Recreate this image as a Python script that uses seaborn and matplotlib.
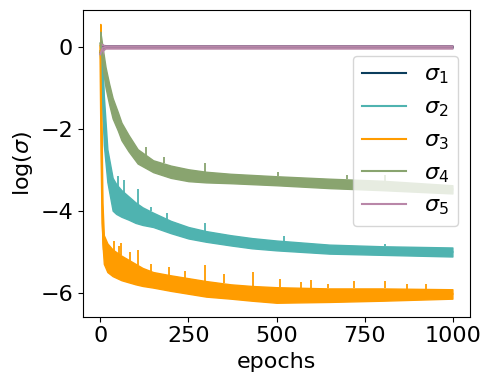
import numpy as np
import pandas as pd
import matplotlib
matplotlib.use('Agg')
import matplotlib.pyplot as plt
import seaborn as sns

# Values: noisy training curves, stored as lower / upper
# envelope at a few epochs plus the visible spikes (epoch, peak value).
labels = [r'$\sigma_1$', r'$\sigma_2$', r'$\sigma_3$', r'$\sigma_4$', r'$\sigma_5$']
colors = ['#0b3d5c', '#4fb3b0', '#ff9c00', '#89a46f', '#b987a8']

s1_epochs = [0, 3, 8, 15, 60, 999]
s1_lo = [-0.40, -0.25, -0.06, -0.02, -0.02, -0.02]
s1_hi = [0.12, 0.08, 0.04, 0.02, 0.02, 0.02]
s1_spikes = []

s2_epochs = [0, 3, 6, 10, 20, 35, 45, 60, 80, 100, 120, 150, 200, 250, 300,
             370, 430, 500, 650, 800, 999]
s2_lo = [-0.30, -0.80, -1.50, -2.40, -3.30, -4.00, -4.08, -4.15, -4.22, -4.30,
         -4.35, -4.40, -4.55, -4.68, -4.76, -4.85, -4.92, -4.97, -5.05, -5.08, -5.12]
s2_hi = [0.10, 0.00, -0.30, -1.20, -2.50, -3.20, -3.35, -3.50, -3.65, -3.80,
         -3.92, -4.05, -4.25, -4.40, -4.50, -4.60, -4.67, -4.73, -4.83, -4.87, -4.90]
s2_spikes = [(50, -3.15), (68, -3.26), (106, -3.48), (143, -3.91), (190, -4.05),
             (298, -4.31), (520, -4.62), (807, -4.81)]

s3_epochs = [0, 3, 6, 10, 20, 35, 60, 80, 100, 120, 150, 200, 250, 300,
             370, 430, 500, 650, 800, 999]
s3_lo = [-0.50, -3.50, -4.80, -5.30, -5.50, -5.60, -5.70, -5.75, -5.80, -5.84,
         -5.88, -5.96, -6.03, -6.10, -6.15, -6.20, -6.25, -6.23, -6.20, -6.15]
s3_hi = [0.56, -1.50, -3.80, -4.60, -4.80, -4.95, -5.10, -5.20, -5.30, -5.40,
         -5.50, -5.58, -5.65, -5.72, -5.80, -5.84, -5.87, -5.90, -5.90, -5.92]
s3_spikes = [(40, -4.75), (52, -4.87), (58, -4.80), (85, -5.00), (106, -4.97),
             (143, -5.30), (196, -5.38), (240, -5.48), (298, -5.32), (350, -5.55),
             (433, -5.50), (509, -5.66), (570, -5.75), (597, -5.70), (645, -5.78),
             (720, -5.72), (807, -5.72), (870, -5.78), (925, -5.80)]

s4_epochs = [0, 3, 8, 15, 25, 35, 50, 60, 80, 106, 150, 200, 250, 300,
             370, 500, 650, 800, 999]
s4_lo = [-0.20, -0.30, -0.60, -1.00, -1.40, -1.75, -2.05, -2.28, -2.55, -2.85,
         -3.06, -3.20, -3.28, -3.31, -3.33, -3.38, -3.45, -3.50, -3.58]
s4_hi = [0.37, 0.20, -0.10, -0.50, -0.90, -1.25, -1.60, -1.85, -2.15, -2.50,
         -2.77, -2.90, -2.99, -3.05, -3.10, -3.16, -3.22, -3.27, -3.38]
s4_spikes = [(130, -2.45), (180, -2.70), (298, -2.84), (504, -3.06), (700, -3.12),
             (807, -3.14)]

s5_epochs = [0, 3, 8, 15, 999]
s5_lo = [-0.45, -0.30, -0.08, -0.04, -0.04]
s5_hi = [0.09, 0.07, 0.05, 0.04, 0.04]
s5_spikes = []

series = [
    (s1_epochs, s1_lo, s1_hi, s1_spikes),
    (s2_epochs, s2_lo, s2_hi, s2_spikes),
    (s3_epochs, s3_lo, s3_hi, s3_spikes),
    (s4_epochs, s4_lo, s4_hi, s4_spikes),
    (s5_epochs, s5_lo, s5_hi, s5_spikes),
]

fig = plt.figure(figsize=(4.9, 3.83), dpi=100)
ax = fig.add_axes([0.1688, 0.1731, 0.7904, 0.8008])

for (ep, lo, hi, spikes), lab, col in zip(series, labels, colors):
    ep = np.array(ep)
    lo = np.array(lo)
    hi = np.array(hi)
    mid = (lo + hi) / 2
    ax.fill_between(ep, lo, hi, color=col, edgecolor=col, lw=1.0)
    if spikes:
        sx = [s[0] for s in spikes]
        sy = [s[1] for s in spikes]
        base = np.interp(sx, ep, hi)
        ax.vlines(sx, base, sy, color=col, lw=1.3)
    df = pd.DataFrame({'epoch': ep, 'val': mid})
    sns.lineplot(data=df, x='epoch', y='val', color=col, lw=1.5, label=lab, ax=ax)

ax.set_xticks([0, 250, 500, 750, 1000])
ax.set_yticks([-6, -4, -2, 0])
ax.tick_params(labelsize=16)
ax.set_xlabel('epochs', fontsize=16)
ax.set_ylabel(r'log($\sigma$)', fontsize=16)

ax.legend(fontsize=16, loc='upper right', bbox_to_anchor=(0.969, 0.850),
          borderaxespad=0)

fig.savefig('out.png', dpi=100)
